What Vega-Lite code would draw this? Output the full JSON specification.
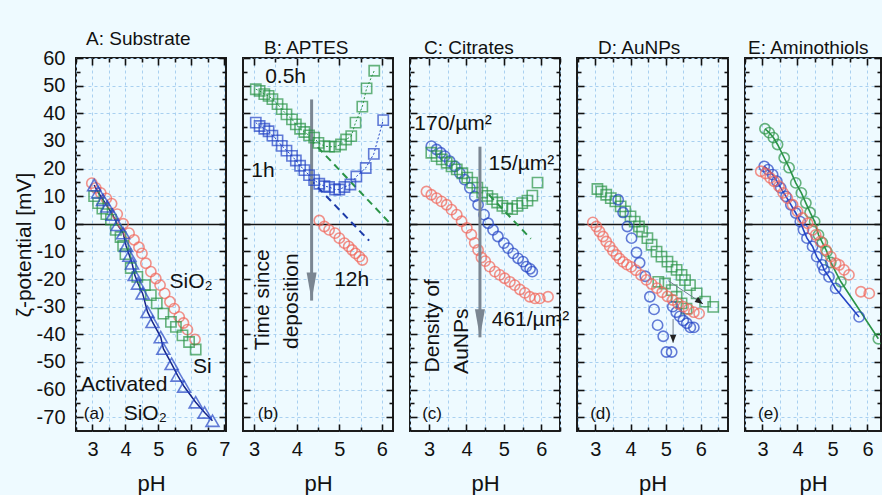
{
  "$schema": "https://vega.github.io/schema/vega-lite/v6.json",
  "background": "#eefaff",
  "padding": {"left": 12, "top": 29, "right": 0, "bottom": 0},
  "bounds": "flush",
  "spacing": 17,
  "datasets": {
    "pts": [
      {"panel":"A","series":"A SiO2","pH":2.98,"zeta":14.7},{"panel":"A","series":"A SiO2","pH":3.1,"zeta":13},{"panel":"A","series":"A SiO2","pH":3.25,"zeta":11.2},{"panel":"A","series":"A SiO2","pH":3.42,"zeta":9.2},{"panel":"A","series":"A SiO2","pH":3.58,"zeta":7.3},{"panel":"A","series":"A SiO2","pH":3.75,"zeta":3.5},{"panel":"A","series":"A SiO2","pH":3.93,"zeta":0},{"panel":"A","series":"A SiO2","pH":4.11,"zeta":-3.4},{"panel":"A","series":"A SiO2","pH":4.26,"zeta":-5.8},{"panel":"A","series":"A SiO2","pH":4.41,"zeta":-8.5},{"panel":"A","series":"A SiO2","pH":4.5,"zeta":-10.7},{"panel":"A","series":"A SiO2","pH":4.62,"zeta":-14.3},{"panel":"A","series":"A SiO2","pH":4.77,"zeta":-17.3},{"panel":"A","series":"A SiO2","pH":4.92,"zeta":-19.8},{"panel":"A","series":"A SiO2","pH":5.05,"zeta":-22.2},{"panel":"A","series":"A SiO2","pH":5.19,"zeta":-25.2},{"panel":"A","series":"A SiO2","pH":5.35,"zeta":-28.2},{"panel":"A","series":"A SiO2","pH":5.48,"zeta":-30.7},{"panel":"A","series":"A SiO2","pH":5.63,"zeta":-33.7},{"panel":"A","series":"A SiO2","pH":5.76,"zeta":-35.9},{"panel":"A","series":"A SiO2","pH":5.88,"zeta":-38.3},{"panel":"A","series":"A SiO2","pH":6.11,"zeta":-41.9},
      {"panel":"A","series":"A Si","pH":3.05,"zeta":10},{"panel":"A","series":"A Si","pH":3.17,"zeta":7.5},{"panel":"A","series":"A Si","pH":3.3,"zeta":5.5},{"panel":"A","series":"A Si","pH":3.42,"zeta":3.5},{"panel":"A","series":"A Si","pH":3.56,"zeta":1.5},{"panel":"A","series":"A Si","pH":3.71,"zeta":-2.2},{"panel":"A","series":"A Si","pH":3.85,"zeta":-4.8},{"panel":"A","series":"A Si","pH":3.93,"zeta":-8},{"panel":"A","series":"A Si","pH":4.0,"zeta":-11},{"panel":"A","series":"A Si","pH":4.16,"zeta":-16},{"panel":"A","series":"A Si","pH":4.36,"zeta":-19.2},{"panel":"A","series":"A Si","pH":4.59,"zeta":-22.2},{"panel":"A","series":"A Si","pH":4.77,"zeta":-25.8},{"panel":"A","series":"A Si","pH":4.95,"zeta":-28.8},{"panel":"A","series":"A Si","pH":5.15,"zeta":-32.5},{"panel":"A","series":"A Si","pH":5.38,"zeta":-35.5},{"panel":"A","series":"A Si","pH":5.53,"zeta":-37.3},{"panel":"A","series":"A Si","pH":5.73,"zeta":-40.4},{"panel":"A","series":"A Si","pH":5.93,"zeta":-42.8},{"panel":"A","series":"A Si","pH":6.13,"zeta":-45.5},
      {"panel":"A","series":"A Activated SiO2","pH":3.05,"zeta":14},{"panel":"A","series":"A Activated SiO2","pH":3.17,"zeta":11.4},{"panel":"A","series":"A Activated SiO2","pH":3.32,"zeta":8.7},{"panel":"A","series":"A Activated SiO2","pH":3.45,"zeta":6.3},{"panel":"A","series":"A Activated SiO2","pH":3.61,"zeta":3.3},{"panel":"A","series":"A Activated SiO2","pH":3.76,"zeta":-0.4},{"panel":"A","series":"A Activated SiO2","pH":3.93,"zeta":-3.4},{"panel":"A","series":"A Activated SiO2","pH":4.02,"zeta":-8},{"panel":"A","series":"A Activated SiO2","pH":4.12,"zeta":-11.5},{"panel":"A","series":"A Activated SiO2","pH":4.2,"zeta":-14.3},{"panel":"A","series":"A Activated SiO2","pH":4.28,"zeta":-18.5},{"panel":"A","series":"A Activated SiO2","pH":4.38,"zeta":-21.6},{"panel":"A","series":"A Activated SiO2","pH":4.52,"zeta":-25.2},{"panel":"A","series":"A Activated SiO2","pH":4.67,"zeta":-31.9},{"panel":"A","series":"A Activated SiO2","pH":4.82,"zeta":-35.5},{"panel":"A","series":"A Activated SiO2","pH":5.07,"zeta":-41},{"panel":"A","series":"A Activated SiO2","pH":5.15,"zeta":-45.2},{"panel":"A","series":"A Activated SiO2","pH":5.4,"zeta":-50.7},{"panel":"A","series":"A Activated SiO2","pH":5.58,"zeta":-54.9},{"panel":"A","series":"A Activated SiO2","pH":5.78,"zeta":-58.9},{"panel":"A","series":"A Activated SiO2","pH":6.13,"zeta":-64.6},{"panel":"A","series":"A Activated SiO2","pH":6.4,"zeta":-68.3},{"panel":"A","series":"A Activated SiO2","pH":6.64,"zeta":-71.3},
      {"panel":"B","series":"B 0.5h","pH":3.04,"zeta":48.7},{"panel":"B","series":"B 0.5h","pH":3.13,"zeta":48.1},{"panel":"B","series":"B 0.5h","pH":3.24,"zeta":46.9},{"panel":"B","series":"B 0.5h","pH":3.34,"zeta":46.3},{"panel":"B","series":"B 0.5h","pH":3.43,"zeta":45.1},{"panel":"B","series":"B 0.5h","pH":3.55,"zeta":43.3},{"panel":"B","series":"B 0.5h","pH":3.65,"zeta":41.5},{"panel":"B","series":"B 0.5h","pH":3.76,"zeta":39.6},{"panel":"B","series":"B 0.5h","pH":3.89,"zeta":37.8},{"panel":"B","series":"B 0.5h","pH":3.98,"zeta":36},{"panel":"B","series":"B 0.5h","pH":4.08,"zeta":34.4},{"panel":"B","series":"B 0.5h","pH":4.18,"zeta":33.2},{"panel":"B","series":"B 0.5h","pH":4.29,"zeta":32},{"panel":"B","series":"B 0.5h","pH":4.41,"zeta":31.2},{"panel":"B","series":"B 0.5h","pH":4.51,"zeta":29.3},{"panel":"B","series":"B 0.5h","pH":4.65,"zeta":28.1},{"panel":"B","series":"B 0.5h","pH":4.76,"zeta":27.9},{"panel":"B","series":"B 0.5h","pH":4.9,"zeta":27.9},{"panel":"B","series":"B 0.5h","pH":5.04,"zeta":28.7},{"panel":"B","series":"B 0.5h","pH":5.16,"zeta":30.5},{"panel":"B","series":"B 0.5h","pH":5.28,"zeta":31.7},{"panel":"B","series":"B 0.5h","pH":5.38,"zeta":36.6},{"panel":"B","series":"B 0.5h","pH":5.54,"zeta":42.4},{"panel":"B","series":"B 0.5h","pH":5.64,"zeta":49},{"panel":"B","series":"B 0.5h","pH":5.82,"zeta":55.4},
      {"panel":"B","series":"B 1h","pH":3.04,"zeta":36.6},{"panel":"B","series":"B 1h","pH":3.13,"zeta":35.4},{"panel":"B","series":"B 1h","pH":3.24,"zeta":34.4},{"panel":"B","series":"B 1h","pH":3.34,"zeta":33.5},{"panel":"B","series":"B 1h","pH":3.43,"zeta":31.9},{"panel":"B","series":"B 1h","pH":3.55,"zeta":30.2},{"panel":"B","series":"B 1h","pH":3.65,"zeta":28.2},{"panel":"B","series":"B 1h","pH":3.76,"zeta":26.5},{"panel":"B","series":"B 1h","pH":3.89,"zeta":24.6},{"panel":"B","series":"B 1h","pH":3.98,"zeta":22.9},{"panel":"B","series":"B 1h","pH":4.08,"zeta":21},{"panel":"B","series":"B 1h","pH":4.18,"zeta":19.4},{"panel":"B","series":"B 1h","pH":4.29,"zeta":17.6},{"panel":"B","series":"B 1h","pH":4.41,"zeta":15.8},{"panel":"B","series":"B 1h","pH":4.53,"zeta":14.5},{"panel":"B","series":"B 1h","pH":4.65,"zeta":13.6},{"panel":"B","series":"B 1h","pH":4.76,"zeta":13.3},{"panel":"B","series":"B 1h","pH":4.9,"zeta":12.4},{"panel":"B","series":"B 1h","pH":5.0,"zeta":12.4},{"panel":"B","series":"B 1h","pH":5.12,"zeta":13.3},{"panel":"B","series":"B 1h","pH":5.26,"zeta":14.2},{"panel":"B","series":"B 1h","pH":5.4,"zeta":17.1},{"panel":"B","series":"B 1h","pH":5.62,"zeta":20.2},{"panel":"B","series":"B 1h","pH":5.81,"zeta":25.3},{"panel":"B","series":"B 1h","pH":6.03,"zeta":37.5},
      {"panel":"B","series":"B 12h","pH":4.53,"zeta":1.2},{"panel":"B","series":"B 12h","pH":4.65,"zeta":-1},{"panel":"B","series":"B 12h","pH":4.76,"zeta":-2.2},{"panel":"B","series":"B 12h","pH":4.9,"zeta":-3.4},{"panel":"B","series":"B 12h","pH":5.0,"zeta":-5.2},{"panel":"B","series":"B 12h","pH":5.12,"zeta":-7},{"panel":"B","series":"B 12h","pH":5.22,"zeta":-8.2},{"panel":"B","series":"B 12h","pH":5.3,"zeta":-9.5},{"panel":"B","series":"B 12h","pH":5.38,"zeta":-10.7},{"panel":"B","series":"B 12h","pH":5.47,"zeta":-11.9},{"panel":"B","series":"B 12h","pH":5.54,"zeta":-13.1},
      {"panel":"C","series":"C 170","pH":3.06,"zeta":28.1},{"panel":"C","series":"C 170","pH":3.2,"zeta":26.9},{"panel":"C","series":"C 170","pH":3.31,"zeta":25.7},{"panel":"C","series":"C 170","pH":3.42,"zeta":24.5},{"panel":"C","series":"C 170","pH":3.55,"zeta":22.7},{"panel":"C","series":"C 170","pH":3.69,"zeta":20.8},{"panel":"C","series":"C 170","pH":3.82,"zeta":18.4},{"panel":"C","series":"C 170","pH":3.95,"zeta":16},{"panel":"C","series":"C 170","pH":4.09,"zeta":13},{"panel":"C","series":"C 170","pH":4.22,"zeta":9.9},{"panel":"C","series":"C 170","pH":4.31,"zeta":6.9},{"panel":"C","series":"C 170","pH":4.47,"zeta":3.3},{"panel":"C","series":"C 170","pH":4.58,"zeta":0.2},{"panel":"C","series":"C 170","pH":4.71,"zeta":-2.2},{"panel":"C","series":"C 170","pH":4.84,"zeta":-4.6},{"panel":"C","series":"C 170","pH":5.0,"zeta":-7},{"panel":"C","series":"C 170","pH":5.11,"zeta":-8.8},{"panel":"C","series":"C 170","pH":5.25,"zeta":-10.7},{"panel":"C","series":"C 170","pH":5.38,"zeta":-12.5},{"panel":"C","series":"C 170","pH":5.51,"zeta":-13.7},{"panel":"C","series":"C 170","pH":5.6,"zeta":-15.5},{"panel":"C","series":"C 170","pH":5.7,"zeta":-16.3},{"panel":"C","series":"C 170","pH":5.76,"zeta":-17.3},
      {"panel":"C","series":"C 15","pH":3.06,"zeta":25.7},{"panel":"C","series":"C 15","pH":3.2,"zeta":24.5},{"panel":"C","series":"C 15","pH":3.34,"zeta":23.3},{"panel":"C","series":"C 15","pH":3.47,"zeta":22.1},{"panel":"C","series":"C 15","pH":3.6,"zeta":20.8},{"panel":"C","series":"C 15","pH":3.74,"zeta":19.7},{"panel":"C","series":"C 15","pH":3.89,"zeta":18.3},{"panel":"C","series":"C 15","pH":4.02,"zeta":16.7},{"panel":"C","series":"C 15","pH":4.15,"zeta":14.9},{"panel":"C","series":"C 15","pH":4.29,"zeta":13.1},{"panel":"C","series":"C 15","pH":4.42,"zeta":11.3},{"panel":"C","series":"C 15","pH":4.56,"zeta":10.1},{"panel":"C","series":"C 15","pH":4.69,"zeta":8.9},{"panel":"C","series":"C 15","pH":4.82,"zeta":7.7},{"panel":"C","series":"C 15","pH":4.96,"zeta":6.5},{"panel":"C","series":"C 15","pH":5.09,"zeta":5.6},{"panel":"C","series":"C 15","pH":5.22,"zeta":5.3},{"panel":"C","series":"C 15","pH":5.36,"zeta":6.5},{"panel":"C","series":"C 15","pH":5.49,"zeta":7.5},{"panel":"C","series":"C 15","pH":5.63,"zeta":8.4},{"panel":"C","series":"C 15","pH":5.76,"zeta":10.2},{"panel":"C","series":"C 15","pH":5.9,"zeta":14.9},
      {"panel":"C","series":"C 461","pH":2.93,"zeta":11.7},{"panel":"C","series":"C 461","pH":3.06,"zeta":10.5},{"panel":"C","series":"C 461","pH":3.2,"zeta":9.3},{"panel":"C","series":"C 461","pH":3.33,"zeta":8.1},{"panel":"C","series":"C 461","pH":3.47,"zeta":6.9},{"panel":"C","series":"C 461","pH":3.6,"zeta":5.1},{"panel":"C","series":"C 461","pH":3.74,"zeta":3.3},{"panel":"C","series":"C 461","pH":3.87,"zeta":0.9},{"panel":"C","series":"C 461","pH":4.01,"zeta":-1.5},{"panel":"C","series":"C 461","pH":4.13,"zeta":-3.9},{"panel":"C","series":"C 461","pH":4.22,"zeta":-6.9},{"panel":"C","series":"C 461","pH":4.31,"zeta":-9.5},{"panel":"C","series":"C 461","pH":4.4,"zeta":-12.2},{"panel":"C","series":"C 461","pH":4.5,"zeta":-13.5},{"panel":"C","series":"C 461","pH":4.62,"zeta":-15.5},{"panel":"C","series":"C 461","pH":4.76,"zeta":-17.3},{"panel":"C","series":"C 461","pH":4.89,"zeta":-18.5},{"panel":"C","series":"C 461","pH":5.02,"zeta":-19.7},{"panel":"C","series":"C 461","pH":5.16,"zeta":-21},{"panel":"C","series":"C 461","pH":5.29,"zeta":-22.2},{"panel":"C","series":"C 461","pH":5.43,"zeta":-23.8},{"panel":"C","series":"C 461","pH":5.56,"zeta":-25},{"panel":"C","series":"C 461","pH":5.69,"zeta":-26.4},{"panel":"C","series":"C 461","pH":5.83,"zeta":-27},{"panel":"C","series":"C 461","pH":5.96,"zeta":-27},{"panel":"C","series":"C 461","pH":6.18,"zeta":-26.4},
      {"panel":"D","series":"D green","pH":3.06,"zeta":12.6},{"panel":"D","series":"D green","pH":3.17,"zeta":11.7},{"panel":"D","series":"D green","pH":3.31,"zeta":10.5},{"panel":"D","series":"D green","pH":3.44,"zeta":9.3},{"panel":"D","series":"D green","pH":3.57,"zeta":8.1},{"panel":"D","series":"D green","pH":3.72,"zeta":6.3},{"panel":"D","series":"D green","pH":3.85,"zeta":4.5},{"panel":"D","series":"D green","pH":4.0,"zeta":2.7},{"panel":"D","series":"D green","pH":4.12,"zeta":0.8},{"panel":"D","series":"D green","pH":4.24,"zeta":-1},{"panel":"D","series":"D green","pH":4.33,"zeta":-2.8},{"panel":"D","series":"D green","pH":4.48,"zeta":-5.2},{"panel":"D","series":"D green","pH":4.6,"zeta":-7.6},{"panel":"D","series":"D green","pH":4.74,"zeta":-10.1},{"panel":"D","series":"D green","pH":4.88,"zeta":-11.9},{"panel":"D","series":"D green","pH":5.05,"zeta":-13.7},{"panel":"D","series":"D green","pH":5.17,"zeta":-15.5},{"panel":"D","series":"D green","pH":5.31,"zeta":-16.7},{"panel":"D","series":"D green","pH":5.45,"zeta":-18.5},{"panel":"D","series":"D green","pH":5.55,"zeta":-20.4},{"panel":"D","series":"D green","pH":5.69,"zeta":-22.2},{"panel":"D","series":"D green","pH":5.88,"zeta":-25.2},{"panel":"D","series":"D green","pH":6.12,"zeta":-28.2},{"panel":"D","series":"D green","pH":6.35,"zeta":-30.1},{"panel":"D","series":"D green","pH":4.79,"zeta":-21},{"panel":"D","series":"D green","pH":4.98,"zeta":-21.6},{"panel":"D","series":"D green","pH":5.17,"zeta":-24},{"panel":"D","series":"D green","pH":5.31,"zeta":-26.4},{"panel":"D","series":"D green","pH":5.45,"zeta":-28.8},{"panel":"D","series":"D green","pH":5.59,"zeta":-30.7},
      {"panel":"D","series":"D blue","pH":3.65,"zeta":8.7},{"panel":"D","series":"D blue","pH":3.79,"zeta":4.1},{"panel":"D","series":"D blue","pH":3.91,"zeta":-1},{"panel":"D","series":"D blue","pH":4.03,"zeta":-5.2},{"panel":"D","series":"D blue","pH":4.17,"zeta":-10.4},{"panel":"D","series":"D blue","pH":4.26,"zeta":-14.1},{"panel":"D","series":"D blue","pH":4.42,"zeta":-19},{"panel":"D","series":"D blue","pH":4.55,"zeta":-26.4},{"panel":"D","series":"D blue","pH":4.67,"zeta":-31},{"panel":"D","series":"D blue","pH":4.77,"zeta":-36.7},{"panel":"D","series":"D blue","pH":4.93,"zeta":-40.7},{"panel":"D","series":"D blue","pH":5.02,"zeta":-46.4},{"panel":"D","series":"D blue","pH":5.17,"zeta":-46.4},{"panel":"D","series":"D blue","pH":5.2,"zeta":-30},{"panel":"D","series":"D blue","pH":5.3,"zeta":-32},{"panel":"D","series":"D blue","pH":5.4,"zeta":-33.5},{"panel":"D","series":"D blue","pH":5.5,"zeta":-35},{"panel":"D","series":"D blue","pH":5.6,"zeta":-36},{"panel":"D","series":"D blue","pH":5.7,"zeta":-37.5},{"panel":"D","series":"D blue","pH":5.8,"zeta":-37.5},
      {"panel":"D","series":"D red","pH":2.93,"zeta":0.5},{"panel":"D","series":"D red","pH":3.03,"zeta":-1},{"panel":"D","series":"D red","pH":3.12,"zeta":-2.8},{"panel":"D","series":"D red","pH":3.22,"zeta":-4.6},{"panel":"D","series":"D red","pH":3.31,"zeta":-6.4},{"panel":"D","series":"D red","pH":3.41,"zeta":-8.2},{"panel":"D","series":"D red","pH":3.5,"zeta":-9.8},{"panel":"D","series":"D red","pH":3.6,"zeta":-11.3},{"panel":"D","series":"D red","pH":3.69,"zeta":-12.6},{"panel":"D","series":"D red","pH":3.79,"zeta":-13.8},{"panel":"D","series":"D red","pH":3.9,"zeta":-14.8},{"panel":"D","series":"D red","pH":4.02,"zeta":-15.6},{"panel":"D","series":"D red","pH":4.15,"zeta":-16.8},{"panel":"D","series":"D red","pH":4.3,"zeta":-18.6},{"panel":"D","series":"D red","pH":4.45,"zeta":-20.3},{"panel":"D","series":"D red","pH":4.6,"zeta":-21.8},{"panel":"D","series":"D red","pH":4.75,"zeta":-23.3},{"panel":"D","series":"D red","pH":4.9,"zeta":-24.8},{"panel":"D","series":"D red","pH":5.05,"zeta":-26.3},{"panel":"D","series":"D red","pH":5.2,"zeta":-27.6},{"panel":"D","series":"D red","pH":5.35,"zeta":-28.9},{"panel":"D","series":"D red","pH":5.5,"zeta":-30},{"panel":"D","series":"D red","pH":5.65,"zeta":-31},{"panel":"D","series":"D red","pH":5.8,"zeta":-32},{"panel":"D","series":"D red","pH":5.95,"zeta":-32.5},
      {"panel":"E","series":"E green","pH":3.07,"zeta":34.4},{"panel":"E","series":"E green","pH":3.19,"zeta":33},{"panel":"E","series":"E green","pH":3.31,"zeta":31.2},{"panel":"E","series":"E green","pH":3.43,"zeta":28.7},{"panel":"E","series":"E green","pH":3.62,"zeta":23.9},{"panel":"E","series":"E green","pH":3.76,"zeta":20.3},{"panel":"E","series":"E green","pH":3.95,"zeta":14.8},{"panel":"E","series":"E green","pH":4.11,"zeta":11.2},{"panel":"E","series":"E green","pH":4.24,"zeta":7.5},{"panel":"E","series":"E green","pH":4.36,"zeta":4.1},{"panel":"E","series":"E green","pH":4.49,"zeta":0.8},{"panel":"E","series":"E green","pH":4.6,"zeta":-4},{"panel":"E","series":"E green","pH":4.71,"zeta":-6.8},{"panel":"E","series":"E green","pH":4.84,"zeta":-10.1},{"panel":"E","series":"E green","pH":4.95,"zeta":-14},{"panel":"E","series":"E green","pH":5.24,"zeta":-21},{"panel":"E","series":"E green","pH":6.31,"zeta":-41.6},
      {"panel":"E","series":"E blue","pH":3.05,"zeta":20.8},{"panel":"E","series":"E blue","pH":3.16,"zeta":19.6},{"panel":"E","series":"E blue","pH":3.29,"zeta":17.8},{"panel":"E","series":"E blue","pH":3.41,"zeta":15.4},{"panel":"E","series":"E blue","pH":3.52,"zeta":13},{"panel":"E","series":"E blue","pH":3.67,"zeta":9.9},{"panel":"E","series":"E blue","pH":3.81,"zeta":6.9},{"panel":"E","series":"E blue","pH":3.95,"zeta":3.9},{"panel":"E","series":"E blue","pH":4.08,"zeta":0.8},{"panel":"E","series":"E blue","pH":4.17,"zeta":-2.2},{"panel":"E","series":"E blue","pH":4.27,"zeta":-5.2},{"panel":"E","series":"E blue","pH":4.43,"zeta":-8.2},{"panel":"E","series":"E blue","pH":4.55,"zeta":-11.9},{"panel":"E","series":"E blue","pH":4.71,"zeta":-14.9},{"panel":"E","series":"E blue","pH":4.76,"zeta":-16.7},{"panel":"E","series":"E blue","pH":4.9,"zeta":-19.2},{"panel":"E","series":"E blue","pH":5.09,"zeta":-23.4},{"panel":"E","series":"E blue","pH":5.76,"zeta":-33.7},
      {"panel":"E","series":"E red","pH":2.95,"zeta":19},{"panel":"E","series":"E red","pH":3.09,"zeta":18.2},{"panel":"E","series":"E red","pH":3.22,"zeta":16.6},{"panel":"E","series":"E red","pH":3.33,"zeta":15.4},{"panel":"E","series":"E red","pH":3.47,"zeta":13.6},{"panel":"E","series":"E red","pH":3.59,"zeta":11.2},{"panel":"E","series":"E red","pH":3.71,"zeta":9.3},{"panel":"E","series":"E red","pH":3.86,"zeta":6.9},{"panel":"E","series":"E red","pH":4.0,"zeta":4.5},{"panel":"E","series":"E red","pH":4.14,"zeta":2.1},{"panel":"E","series":"E red","pH":4.29,"zeta":0.2},{"panel":"E","series":"E red","pH":4.43,"zeta":-2.2},{"panel":"E","series":"E red","pH":4.52,"zeta":-4},{"panel":"E","series":"E red","pH":4.66,"zeta":-6.4},{"panel":"E","series":"E red","pH":4.81,"zeta":-9.5},{"panel":"E","series":"E red","pH":4.95,"zeta":-11.9},{"panel":"E","series":"E red","pH":5.09,"zeta":-14.3},{"panel":"E","series":"E red","pH":5.19,"zeta":-14.9},{"panel":"E","series":"E red","pH":5.33,"zeta":-16.7},{"panel":"E","series":"E red","pH":5.47,"zeta":-18.5},{"panel":"E","series":"E red","pH":5.81,"zeta":-24.6},{"panel":"E","series":"E red","pH":6.05,"zeta":-25.2}
    ],
    "fits": [
      {"panel":"B","series":"B 0.5h fit","pH":4.3,"zeta":30.9},{"panel":"B","series":"B 0.5h fit","pH":6.2,"zeta":0},
      {"panel":"B","series":"B 1h fit","pH":4.3,"zeta":16.3},{"panel":"B","series":"B 1h fit","pH":5.7,"zeta":-6.1},
      {"panel":"C","series":"C 15 fit","pH":4.6,"zeta":10.5},{"panel":"C","series":"C 15 fit","pH":5.72,"zeta":-5.4}
    ],
    "arrows": [
      {"panel":"B","arrow":"time since deposition","pH":4.35,"zeta":45,"pH2":4.35,"zeta2":-27.8},
      {"panel":"C","arrow":"density of AuNPs","pH":4.36,"zeta":27.9,"pH2":4.36,"zeta2":-41.1},
      {"panel":"D","arrow":"green shift","pH":5.07,"zeta":-20.6,"pH2":6.06,"zeta2":-29},
      {"panel":"D","arrow":"blue shift","pH":5.21,"zeta":-34.5,"pH2":5.21,"zeta2":-43.1}
    ],
    "notes": [
      {"panel":"A","label":"SiO₂","pH":5.99,"zeta":-21.2},
      {"panel":"A","label":"Si","pH":6.33,"zeta":-52},
      {"panel":"A","label":"Activated","pH":3.96,"zeta":-58.5},
      {"panel":"A","label":"SiO₂","pH":4.6,"zeta":-68.8},
      {"panel":"A","label":"(a)","pH":3.05,"zeta":-68.8},
      {"panel":"B","label":"0.5h","pH":3.74,"zeta":53},
      {"panel":"B","label":"1h","pH":3.21,"zeta":19},
      {"panel":"B","label":"12h","pH":5.29,"zeta":-20.3},
      {"panel":"B","label":"(b)","pH":3.33,"zeta":-68.8},
      {"panel":"C","label":"170/µm²","pH":3.64,"zeta":36},
      {"panel":"C","label":"15/µm²","pH":5.47,"zeta":21.5},
      {"panel":"C","label":"461/µm²","pH":5.71,"zeta":-34.8},
      {"panel":"C","label":"(c)","pH":3.08,"zeta":-68.8},
      {"panel":"D","label":"(d)","pH":3.15,"zeta":-68.8},
      {"panel":"E","label":"(e)","pH":3.17,"zeta":-68.8}
    ],
    "vnotes": [
      {"panel":"B","label":"Time since","pH":3.2,"zeta":-27.5},
      {"panel":"B","label":"deposition","pH":3.9,"zeta":-28},
      {"panel":"C","label":"Density of","pH":3.11,"zeta":-36.9},
      {"panel":"C","label":"AuNPs","pH":3.87,"zeta":-42.5}
    ]
  },
  "hconcat": [
    {
      "width": 150, "height": 373,
      "title": {"text": "A: Substrate", "dx": 10},
      "encoding": {
        "x": {"field": "pH", "type": "quantitative", "scale": {"domain": [2.5, 7.05], "nice": false, "zero": false}, "axis": null},
        "y": {"field": "zeta", "type": "quantitative", "scale": {"domain": [-75, 60], "nice": false, "zero": false}, "axis": null}
      },
      "layer": [
        {"data": {"name": "pts"}, "transform": [{"filter": "datum.series === 'A Activated SiO2'"}], "mark": {"type": "line", "color": "#16248a", "strokeWidth": 1.5}},
        {"data": {"name": "pts"}, "transform": [{"filter": "datum.panel === 'A' && datum.series !== 'A Activated SiO2'"}], "mark": {"type": "point", "filled": false, "strokeWidth": 1.6, "size": 105},
          "encoding": {
            "x": {"field": "pH", "type": "quantitative", "scale": {"domain": [2.5, 7.05], "nice": false, "zero": false}, "axis": {"orient": "bottom", "values": [2.5,3,3.5,4,4.5,5,5.5,6,6.5,7], "labelExpr": "datum.value % 1 === 0 ? '' + datum.value : ''", "tickSize": {"condition": {"test": "datum.value % 1 === 0", "value": -7}, "value": -4}, "labelPadding": 15, "grid": true, "title": "pH", "titleFontSize": 22, "titlePadding": 14}},
            "y": {"field": "zeta", "type": "quantitative", "scale": {"domain": [-75, 60], "nice": false, "zero": false}, "axis": {"orient": "left", "values": [-70,-65,-60,-55,-50,-45,-40,-35,-30,-25,-20,-15,-10,-5,0,5,10,15,20,25,30,35,40,45,50,55,60], "labelExpr": "datum.value % 10 === 0 ? '' + datum.value : ''", "tickSize": {"condition": {"test": "datum.value % 10 === 0", "value": -7}, "value": -4}, "labelPadding": 18, "grid": true, "gridOpacity": {"condition": {"test": "datum.value % 10 !== 0", "value": 0}, "value": 1}, "gridColor": {"condition": {"test": "datum.value === 0", "value": "#111111"}, "value": "#a9d0f0"}, "gridDash": {"condition": {"test": "datum.value === 0", "value": []}, "value": [3, 3]}, "gridWidth": {"condition": {"test": "datum.value === 0", "value": 1.4}, "value": 1}, "title": "ζ-potential [mV]", "titleFontSize": 21, "titlePadding": 2}},
            "color": {"field": "series", "type": "nominal", "legend": null, "scale": {"domain": ["A SiO2","A Si","A Activated SiO2","B 0.5h","B 1h","B 12h","C 170","C 15","C 461","D green","D blue","D red","E green","E blue","E red","B 0.5h fit","B 1h fit","C 15 fit"], "range": ["#f2665a","#2b9447","#2545c6","#2b9447","#2545c6","#f2665a","#2545c6","#2b9447","#f2665a","#2b9447","#2545c6","#f2665a","#2b9447","#2545c6","#f2665a","#2b9447","#1c3aa8","#2b9447"]}},
            "shape": {"field": "series", "type": "nominal", "legend": null, "scale": {"domain": ["A SiO2","A Si","A Activated SiO2","B 0.5h","B 1h","B 12h","C 170","C 15","C 461","D green","D blue","D red","E green","E blue","E red"], "range": ["circle","square","triangle-up","square","square","circle","circle","square","circle","square","circle","circle","circle","circle","circle"]}}
          }},
        {"data": {"name": "pts"}, "transform": [{"filter": "datum.series === 'A Activated SiO2'"}], "mark": {"type": "point", "filled": false, "strokeWidth": 1.6, "size": 170},
          "encoding": {"color": {"field": "series", "type": "nominal", "legend": null}, "shape": {"field": "series", "type": "nominal", "legend": null}}},
        {"data": {"name": "notes"}, "transform": [{"filter": "datum.panel === 'A'"}], "mark": {"type": "text", "font": "Liberation Sans", "align": "center", "baseline": "middle", "color": "#111111"},
          "encoding": {
            "x": {"field": "pH", "type": "quantitative", "scale": {"domain": [2.5, 7.05], "nice": false, "zero": false}, "axis": {"orient": "top", "values": [2.5,3,3.5,4,4.5,5,5.5,6,6.5,7], "labels": false, "tickSize": {"condition": {"test": "datum.value % 1 === 0", "value": -7}, "value": -4}, "grid": false, "title": null}},
            "y": {"field": "zeta", "type": "quantitative", "scale": {"domain": [-75, 60], "nice": false, "zero": false}, "axis": {"orient": "right", "values": [-70,-65,-60,-55,-50,-45,-40,-35,-30,-25,-20,-15,-10,-5,0,5,10,15,20,25,30,35,40,45,50,55,60], "labels": false, "tickSize": {"condition": {"test": "datum.value % 10 === 0", "value": -7}, "value": -4}, "grid": false, "title": null}},
            "text": {"field": "label"},
            "size": {"condition": {"test": "indexof(datum.label, '(') === 0", "value": 17}, "value": 21}
          }}
      ],
      "resolve": {"axis": {"x": "independent", "y": "independent"}}
    },
    {
      "width": 150, "height": 373,
      "title": {"text": "B: APTES", "dx": 21},
      "encoding": {
        "x": {"field": "pH", "type": "quantitative", "scale": {"domain": [2.74, 6.26], "nice": false, "zero": false}, "axis": null},
        "y": {"field": "zeta", "type": "quantitative", "scale": {"domain": [-75, 60], "nice": false, "zero": false}, "axis": null}
      },
      "layer": [
        {"data": {"name": "pts"}, "transform": [{"filter": "datum.series === 'B 0.5h' || datum.series === 'B 1h'"}], "mark": {"type": "line", "strokeWidth": 1, "strokeDash": [2, 2]},
          "encoding": {"color": {"field": "series", "type": "nominal", "legend": null}}},
        {"data": {"name": "fits"}, "transform": [{"filter": "datum.panel === 'B'"}], "mark": {"type": "line", "strokeWidth": 2, "strokeDash": [7, 5]},
          "encoding": {"color": {"field": "series", "type": "nominal", "legend": null}}},
        {"data": {"name": "arrows"}, "transform": [{"filter": "datum.panel === 'B'"}], "mark": {"type": "rule", "color": "#7b8692", "strokeWidth": 3},
          "encoding": {"y2": {"field": "zeta2"}}},
        {"data": {"name": "arrows"}, "transform": [{"filter": "datum.panel === 'B'"}], "mark": {"type": "point", "shape": "M-0.5,-2.8L0.5,-2.8L0,0Z", "filled": true, "color": "#7b8692", "opacity": 1, "size": 400},
          "encoding": {"x": {"field": "pH2", "type": "quantitative", "axis": null}, "y": {"field": "zeta2", "type": "quantitative", "axis": null}}},
        {"data": {"name": "pts"}, "transform": [{"filter": "datum.panel === 'B'"}], "mark": {"type": "point", "filled": false, "strokeWidth": 1.6, "size": 105},
          "encoding": {
            "x": {"field": "pH", "type": "quantitative", "scale": {"domain": [2.74, 6.26], "nice": false, "zero": false}, "axis": {"orient": "bottom", "values": [3,3.5,4,4.5,5,5.5,6], "labelExpr": "datum.value % 1 === 0 ? '' + datum.value : ''", "tickSize": {"condition": {"test": "datum.value % 1 === 0", "value": -7}, "value": -4}, "labelPadding": 15, "grid": true, "title": "pH", "titleFontSize": 22, "titlePadding": 14}},
            "y": {"field": "zeta", "type": "quantitative", "scale": {"domain": [-75, 60], "nice": false, "zero": false}, "axis": {"orient": "left", "values": [-70,-65,-60,-55,-50,-45,-40,-35,-30,-25,-20,-15,-10,-5,0,5,10,15,20,25,30,35,40,45,50,55,60], "labels": false, "tickSize": {"condition": {"test": "datum.value % 10 === 0", "value": -7}, "value": -4}, "grid": true, "gridOpacity": {"condition": {"test": "datum.value % 10 !== 0", "value": 0}, "value": 1}, "gridColor": {"condition": {"test": "datum.value === 0", "value": "#111111"}, "value": "#a9d0f0"}, "gridDash": {"condition": {"test": "datum.value === 0", "value": []}, "value": [3, 3]}, "gridWidth": {"condition": {"test": "datum.value === 0", "value": 1.4}, "value": 1}, "title": null}},
            "color": {"field": "series", "type": "nominal", "legend": null},
            "shape": {"field": "series", "type": "nominal", "legend": null}
          }},
        {"data": {"name": "notes"}, "transform": [{"filter": "datum.panel === 'B'"}], "mark": {"type": "text", "font": "Liberation Sans", "align": "center", "baseline": "middle", "color": "#111111"},
          "encoding": {
            "x": {"field": "pH", "type": "quantitative", "scale": {"domain": [2.74, 6.26], "nice": false, "zero": false}, "axis": {"orient": "top", "values": [3,3.5,4,4.5,5,5.5,6], "labels": false, "tickSize": {"condition": {"test": "datum.value % 1 === 0", "value": -7}, "value": -4}, "grid": false, "title": null}},
            "y": {"field": "zeta", "type": "quantitative", "scale": {"domain": [-75, 60], "nice": false, "zero": false}, "axis": {"orient": "right", "values": [-70,-65,-60,-55,-50,-45,-40,-35,-30,-25,-20,-15,-10,-5,0,5,10,15,20,25,30,35,40,45,50,55,60], "labels": false, "tickSize": {"condition": {"test": "datum.value % 10 === 0", "value": -7}, "value": -4}, "grid": false, "title": null}},
            "text": {"field": "label"},
            "size": {"condition": {"test": "indexof(datum.label, '(') === 0", "value": 17}, "value": 21}
          }},
        {"data": {"name": "vnotes"}, "transform": [{"filter": "datum.panel === 'B'"}], "mark": {"type": "text", "font": "Liberation Sans", "fontSize": 21, "angle": 270, "align": "center", "baseline": "middle", "color": "#111111"},
          "encoding": {"text": {"field": "label"}}}
      ],
      "resolve": {"axis": {"x": "independent", "y": "independent"}}
    },
    {
      "width": 150, "height": 373,
      "title": {"text": "C: Citrates", "dx": 14},
      "encoding": {
        "x": {"field": "pH", "type": "quantitative", "scale": {"domain": [2.49, 6.5], "nice": false, "zero": false}, "axis": null},
        "y": {"field": "zeta", "type": "quantitative", "scale": {"domain": [-75, 60], "nice": false, "zero": false}, "axis": null}
      },
      "layer": [
        {"data": {"name": "fits"}, "transform": [{"filter": "datum.panel === 'C'"}], "mark": {"type": "line", "strokeWidth": 2, "strokeDash": [7, 5]},
          "encoding": {"color": {"field": "series", "type": "nominal", "legend": null}}},
        {"data": {"name": "pts"}, "transform": [{"filter": "datum.panel === 'C'"}], "mark": {"type": "point", "filled": false, "strokeWidth": 1.6, "size": 105},
          "encoding": {
            "x": {"field": "pH", "type": "quantitative", "scale": {"domain": [2.49, 6.5], "nice": false, "zero": false}, "axis": {"orient": "bottom", "values": [2.5,3,3.5,4,4.5,5,5.5,6,6.5], "labelExpr": "datum.value % 1 === 0 ? '' + datum.value : ''", "tickSize": {"condition": {"test": "datum.value % 1 === 0", "value": -7}, "value": -4}, "labelPadding": 15, "grid": true, "title": "pH", "titleFontSize": 22, "titlePadding": 14}},
            "y": {"field": "zeta", "type": "quantitative", "scale": {"domain": [-75, 60], "nice": false, "zero": false}, "axis": {"orient": "left", "values": [-70,-65,-60,-55,-50,-45,-40,-35,-30,-25,-20,-15,-10,-5,0,5,10,15,20,25,30,35,40,45,50,55,60], "labels": false, "tickSize": {"condition": {"test": "datum.value % 10 === 0", "value": -7}, "value": -4}, "grid": true, "gridOpacity": {"condition": {"test": "datum.value % 10 !== 0", "value": 0}, "value": 1}, "gridColor": {"condition": {"test": "datum.value === 0", "value": "#111111"}, "value": "#a9d0f0"}, "gridDash": {"condition": {"test": "datum.value === 0", "value": []}, "value": [3, 3]}, "gridWidth": {"condition": {"test": "datum.value === 0", "value": 1.4}, "value": 1}, "title": null}},
            "color": {"field": "series", "type": "nominal", "legend": null},
            "shape": {"field": "series", "type": "nominal", "legend": null}
          }},
        {"data": {"name": "arrows"}, "transform": [{"filter": "datum.panel === 'C'"}], "mark": {"type": "rule", "color": "#7b8692", "strokeWidth": 3},
          "encoding": {"y2": {"field": "zeta2"}}},
        {"data": {"name": "arrows"}, "transform": [{"filter": "datum.panel === 'C'"}], "mark": {"type": "point", "shape": "M-0.5,-2.8L0.5,-2.8L0,0Z", "filled": true, "color": "#7b8692", "opacity": 1, "size": 400},
          "encoding": {"x": {"field": "pH2", "type": "quantitative", "axis": null}, "y": {"field": "zeta2", "type": "quantitative", "axis": null}}},
        {"data": {"name": "notes"}, "transform": [{"filter": "datum.panel === 'C'"}], "mark": {"type": "text", "font": "Liberation Sans", "align": "center", "baseline": "middle", "color": "#111111"},
          "encoding": {
            "x": {"field": "pH", "type": "quantitative", "scale": {"domain": [2.49, 6.5], "nice": false, "zero": false}, "axis": {"orient": "top", "values": [2.5,3,3.5,4,4.5,5,5.5,6,6.5], "labels": false, "tickSize": {"condition": {"test": "datum.value % 1 === 0", "value": -7}, "value": -4}, "grid": false, "title": null}},
            "y": {"field": "zeta", "type": "quantitative", "scale": {"domain": [-75, 60], "nice": false, "zero": false}, "axis": {"orient": "right", "values": [-70,-65,-60,-55,-50,-45,-40,-35,-30,-25,-20,-15,-10,-5,0,5,10,15,20,25,30,35,40,45,50,55,60], "labels": false, "tickSize": {"condition": {"test": "datum.value % 10 === 0", "value": -7}, "value": -4}, "grid": false, "title": null}},
            "text": {"field": "label"},
            "size": {"condition": {"test": "indexof(datum.label, '(') === 0", "value": 17}, "value": 21}
          }},
        {"data": {"name": "vnotes"}, "transform": [{"filter": "datum.panel === 'C'"}], "mark": {"type": "text", "font": "Liberation Sans", "fontSize": 21, "angle": 270, "align": "center", "baseline": "middle", "color": "#111111"},
          "encoding": {"text": {"field": "label"}}}
      ],
      "resolve": {"axis": {"x": "independent", "y": "independent"}}
    },
    {
      "width": 151, "height": 373,
      "title": {"text": "D: AuNPs", "dx": 21},
      "encoding": {
        "x": {"field": "pH", "type": "quantitative", "scale": {"domain": [2.48, 6.77], "nice": false, "zero": false}, "axis": null},
        "y": {"field": "zeta", "type": "quantitative", "scale": {"domain": [-75, 60], "nice": false, "zero": false}, "axis": null}
      },
      "layer": [
        {"data": {"name": "pts"}, "transform": [{"filter": "datum.panel === 'D'"}], "mark": {"type": "point", "filled": false, "strokeWidth": 1.6, "size": 105},
          "encoding": {
            "x": {"field": "pH", "type": "quantitative", "scale": {"domain": [2.48, 6.77], "nice": false, "zero": false}, "axis": {"orient": "bottom", "values": [2.5,3,3.5,4,4.5,5,5.5,6,6.5], "labelExpr": "datum.value % 1 === 0 ? '' + datum.value : ''", "tickSize": {"condition": {"test": "datum.value % 1 === 0", "value": -7}, "value": -4}, "labelPadding": 15, "grid": true, "title": "pH", "titleFontSize": 22, "titlePadding": 14}},
            "y": {"field": "zeta", "type": "quantitative", "scale": {"domain": [-75, 60], "nice": false, "zero": false}, "axis": {"orient": "left", "values": [-70,-65,-60,-55,-50,-45,-40,-35,-30,-25,-20,-15,-10,-5,0,5,10,15,20,25,30,35,40,45,50,55,60], "labels": false, "tickSize": {"condition": {"test": "datum.value % 10 === 0", "value": -7}, "value": -4}, "grid": true, "gridOpacity": {"condition": {"test": "datum.value % 10 !== 0", "value": 0}, "value": 1}, "gridColor": {"condition": {"test": "datum.value === 0", "value": "#111111"}, "value": "#a9d0f0"}, "gridDash": {"condition": {"test": "datum.value === 0", "value": []}, "value": [3, 3]}, "gridWidth": {"condition": {"test": "datum.value === 0", "value": 1.4}, "value": 1}, "title": null}},
            "color": {"field": "series", "type": "nominal", "legend": null},
            "shape": {"field": "series", "type": "nominal", "legend": null}
          }},
        {"data": {"name": "arrows"}, "transform": [{"filter": "datum.panel === 'D'"}], "mark": {"type": "rule", "color": "#6e7d8d", "strokeWidth": 1},
          "encoding": {"x2": {"field": "pH2"}, "y2": {"field": "zeta2"}}},
        {"data": {"name": "arrows"}, "transform": [{"filter": "datum.panel === 'D'"}], "mark": {"type": "point", "shape": "M-2,-0.8L0,0L-2,0.8Z", "filled": true, "color": "#222222", "opacity": 1, "size": 64},
          "encoding": {"x": {"field": "pH2", "type": "quantitative", "axis": null}, "y": {"field": "zeta2", "type": "quantitative", "axis": null},
            "angle": {"condition": {"test": "datum.arrow === 'blue shift'", "value": 90}, "value": 34}}},
        {"data": {"name": "notes"}, "transform": [{"filter": "datum.panel === 'D'"}], "mark": {"type": "text", "font": "Liberation Sans", "align": "center", "baseline": "middle", "color": "#111111"},
          "encoding": {
            "x": {"field": "pH", "type": "quantitative", "scale": {"domain": [2.48, 6.77], "nice": false, "zero": false}, "axis": {"orient": "top", "values": [2.5,3,3.5,4,4.5,5,5.5,6,6.5], "labels": false, "tickSize": {"condition": {"test": "datum.value % 1 === 0", "value": -7}, "value": -4}, "grid": false, "title": null}},
            "y": {"field": "zeta", "type": "quantitative", "scale": {"domain": [-75, 60], "nice": false, "zero": false}, "axis": {"orient": "right", "values": [-70,-65,-60,-55,-50,-45,-40,-35,-30,-25,-20,-15,-10,-5,0,5,10,15,20,25,30,35,40,45,50,55,60], "labels": false, "tickSize": {"condition": {"test": "datum.value % 10 === 0", "value": -7}, "value": -4}, "grid": false, "title": null}},
            "text": {"field": "label"},
            "size": {"condition": {"test": "indexof(datum.label, '(') === 0", "value": 17}, "value": 21}
          }}
      ],
      "resolve": {"axis": {"x": "independent", "y": "independent"}}
    },
    {
      "width": 136, "height": 373,
      "title": {"text": "E: Aminothiols", "dx": 3},
      "encoding": {
        "x": {"field": "pH", "type": "quantitative", "scale": {"domain": [2.5, 6.386], "nice": false, "zero": false}, "axis": null},
        "y": {"field": "zeta", "type": "quantitative", "scale": {"domain": [-75, 60], "nice": false, "zero": false}, "axis": null}
      },
      "layer": [
        {"data": {"name": "pts"}, "transform": [{"filter": "datum.series === 'E green' || datum.series === 'E blue'"}], "mark": {"type": "line", "strokeWidth": 1.6},
          "encoding": {"color": {"field": "series", "type": "nominal", "legend": null}}},
        {"data": {"name": "pts"}, "transform": [{"filter": "datum.panel === 'E'"}], "mark": {"type": "point", "filled": false, "strokeWidth": 1.6, "size": 105, "clip": true},
          "encoding": {
            "x": {"field": "pH", "type": "quantitative", "scale": {"domain": [2.5, 6.386], "nice": false, "zero": false}, "axis": {"orient": "bottom", "values": [2.5,3,3.5,4,4.5,5,5.5,6], "labelExpr": "datum.value % 1 === 0 ? '' + datum.value : ''", "tickSize": {"condition": {"test": "datum.value % 1 === 0", "value": -7}, "value": -4}, "labelPadding": 15, "grid": true, "title": "pH", "titleFontSize": 22, "titlePadding": 14}},
            "y": {"field": "zeta", "type": "quantitative", "scale": {"domain": [-75, 60], "nice": false, "zero": false}, "axis": {"orient": "left", "values": [-70,-65,-60,-55,-50,-45,-40,-35,-30,-25,-20,-15,-10,-5,0,5,10,15,20,25,30,35,40,45,50,55,60], "labels": false, "tickSize": {"condition": {"test": "datum.value % 10 === 0", "value": -7}, "value": -4}, "grid": true, "gridOpacity": {"condition": {"test": "datum.value % 10 !== 0", "value": 0}, "value": 1}, "gridColor": {"condition": {"test": "datum.value === 0", "value": "#111111"}, "value": "#a9d0f0"}, "gridDash": {"condition": {"test": "datum.value === 0", "value": []}, "value": [3, 3]}, "gridWidth": {"condition": {"test": "datum.value === 0", "value": 1.4}, "value": 1}, "title": null}},
            "color": {"field": "series", "type": "nominal", "legend": null},
            "shape": {"field": "series", "type": "nominal", "legend": null}
          }},
        {"data": {"name": "notes"}, "transform": [{"filter": "datum.panel === 'E'"}], "mark": {"type": "text", "font": "Liberation Sans", "align": "center", "baseline": "middle", "color": "#111111"},
          "encoding": {
            "x": {"field": "pH", "type": "quantitative", "scale": {"domain": [2.5, 6.386], "nice": false, "zero": false}, "axis": {"orient": "top", "values": [2.5,3,3.5,4,4.5,5,5.5,6], "labels": false, "tickSize": {"condition": {"test": "datum.value % 1 === 0", "value": -7}, "value": -4}, "grid": false, "title": null}},
            "y": {"field": "zeta", "type": "quantitative", "scale": {"domain": [-75, 60], "nice": false, "zero": false}, "axis": {"orient": "right", "values": [-70,-65,-60,-55,-50,-45,-40,-35,-30,-25,-20,-15,-10,-5,0,5,10,15,20,25,30,35,40,45,50,55,60], "labels": false, "tickSize": {"condition": {"test": "datum.value % 10 === 0", "value": -7}, "value": -4}, "grid": false, "title": null}},
            "text": {"field": "label"},
            "size": {"condition": {"test": "indexof(datum.label, '(') === 0", "value": 17}, "value": 21}
          }}
      ],
      "resolve": {"axis": {"x": "independent", "y": "independent"}}
    }
  ],
  "config": {
    "font": "Liberation Sans",
    "view": {"stroke": "#1c1c1c", "strokeWidth": 2},
    "axis": {"domain": false, "tickColor": "#111111", "tickWidth": 1.6, "labelFont": "Liberation Sans", "labelFontSize": 20, "labelColor": "#111111", "labelFlush": false, "titleFont": "Liberation Sans", "titleFontWeight": "normal", "titleColor": "#111111", "gridColor": "#a9d0f0", "gridDash": [3, 3], "gridWidth": 1},
    "title": {"font": "Liberation Sans", "fontSize": 19, "fontWeight": "normal", "anchor": "start", "frame": "group", "offset": -1, "color": "#111111"}
  }
}
